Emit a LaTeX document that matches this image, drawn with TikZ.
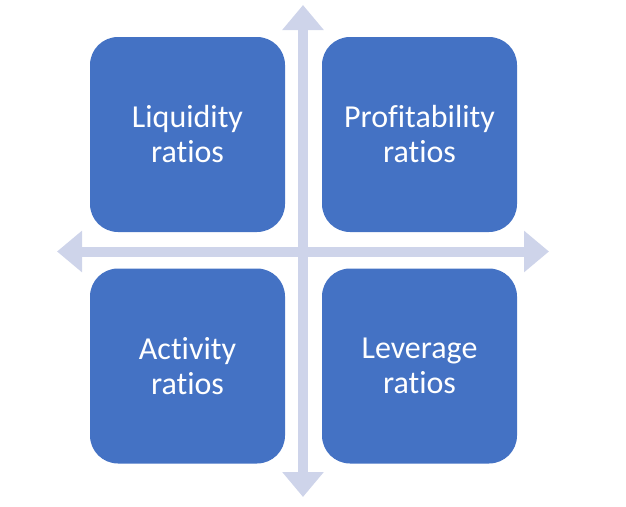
\documentclass[tikz,border=0pt]{standalone}
\usepackage{fontspec}
\setmainfont{Carlito}[RawFeature={-liga;-clig;-calt;-dlig}]
\usetikzlibrary{arrows.meta}
\definecolor{boxblue}{HTML}{4472C4}
\definecolor{axiscol}{HTML}{CED4EA}
\tikzset{
  quad/.style={draw=none, fill=boxblue, rounded corners=28pt, minimum width=195pt, minimum height=195pt,
    inner sep=0pt, text=white, align=center, font=\fontsize{32}{35}\selectfont},
  axis/.style={draw=axiscol, line width=10pt,
    {Triangle[width=40pt,length=25pt]}-{Triangle[width=40pt,length=25pt]}}
}
\begin{document}
\begin{tikzpicture}[x=1pt,y=-1pt]
\useasboundingbox (0,0) rectangle (626,506);
\coordinate (top) at (303,5);
\coordinate (bottom) at (303,497);
\coordinate (left) at (57,251.5);
\coordinate (right) at (549,251.5);
\draw[axis] (left) -- (right);
\draw[axis] (bottom) -- (top);
\node[quad] (liq) at (187.5,134.5) {Liquidity\\ratios};
\node[quad] (prof) at (419.5,134.5) {Profitability\\ratios};
\node[quad] (act) at (187.5,366) {Activity\\ratios};
\node[quad] (lev) at (419.5,366) {Leverage\\ratios};
\end{tikzpicture}
\end{document}
